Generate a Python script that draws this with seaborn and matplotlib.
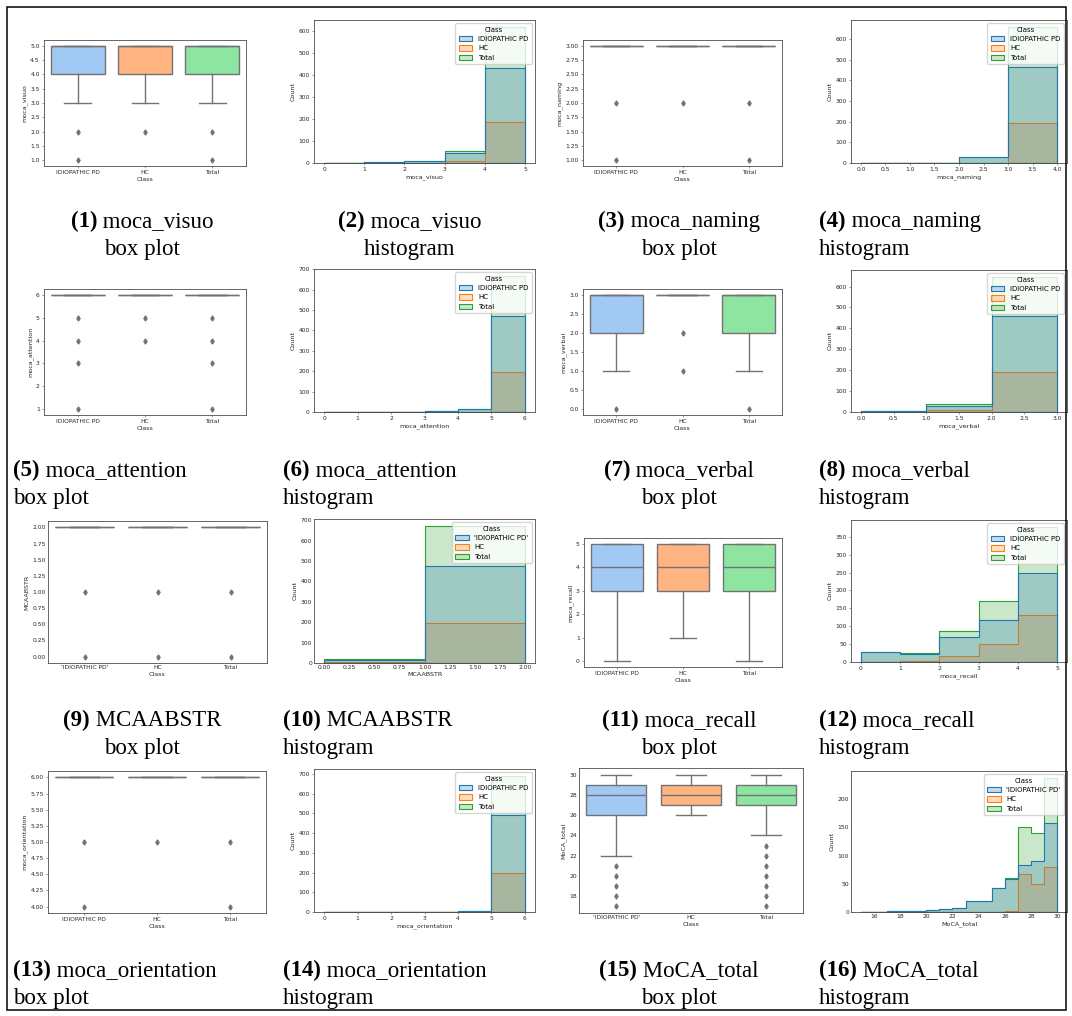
import numpy as np
import pandas as pd
import matplotlib
matplotlib.use("Agg")
import matplotlib.pyplot as plt
import matplotlib.ticker as mticker
from matplotlib.patches import Rectangle
import seaborn as sns

W, H = 1072, 1016

CLASSES = ["IDIOPATHIC PD", "HC", "Total"]
CLASSES_Q = ["'IDIOPATHIC PD'", "HC", "Total"]

# ---------------- box plot summaries (q1, median, q3, whiskers, outliers) ----------------
visuo_q1 = [4, 4, 4]
visuo_med = [5, 5, 5]
visuo_q3 = [5, 5, 5]
visuo_lo = [3, 3, 3]
visuo_hi = [5, 5, 5]
visuo_out = [[2, 1], [2], [2, 1]]

naming_q1 = [3, 3, 3]
naming_med = [3, 3, 3]
naming_q3 = [3, 3, 3]
naming_lo = [3, 3, 3]
naming_hi = [3, 3, 3]
naming_out = [[2, 1], [2], [2, 1]]

attention_q1 = [6, 6, 6]
attention_med = [6, 6, 6]
attention_q3 = [6, 6, 6]
attention_lo = [6, 6, 6]
attention_hi = [6, 6, 6]
attention_out = [[5, 4, 3, 1], [5, 4], [5, 4, 3, 1]]

verbal_q1 = [2, 3, 2]
verbal_med = [3, 3, 3]
verbal_q3 = [3, 3, 3]
verbal_lo = [1, 3, 1]
verbal_hi = [3, 3, 3]
verbal_out = [[0], [2, 1], [0]]

abstr_q1 = [2, 2, 2]
abstr_med = [2, 2, 2]
abstr_q3 = [2, 2, 2]
abstr_lo = [2, 2, 2]
abstr_hi = [2, 2, 2]
abstr_out = [[1, 0], [1, 0], [1, 0]]

recall_q1 = [3, 3, 3]
recall_med = [4, 4, 4]
recall_q3 = [5, 5, 5]
recall_lo = [0, 1, 0]
recall_hi = [5, 5, 5]
recall_out = [[], [], []]

orient_q1 = [6, 6, 6]
orient_med = [6, 6, 6]
orient_q3 = [6, 6, 6]
orient_lo = [6, 6, 6]
orient_hi = [6, 6, 6]
orient_out = [[5, 4], [5], [5, 4]]

total_q1 = [26, 27, 27]
total_med = [28, 28, 28]
total_q3 = [29, 29, 29]
total_lo = [22, 26, 24]
total_hi = [30, 30, 30]
total_out = [[21, 20, 19, 18, 17], [], [23, 22, 21, 20, 19, 18, 17]]

# ---------------- histogram counts (bin edges, counts per class) ----------------
visuo_edges = [0, 1, 2, 3, 4, 5]
visuo_pd = [0, 3, 8, 45, 432]
visuo_hc = [0, 0, 1, 9, 187]
visuo_tot = [0, 3, 9, 54, 619]

naming_edges = [0, 1, 2, 3, 4]
naming_pd = [0, 0, 29, 464]
naming_hc = [0, 0, 2, 194]
naming_tot = [0, 0, 31, 658]

attention_edges = [0, 1, 2, 3, 4, 5, 6]
attention_pd = [1, 0, 1, 4, 14, 471]
attention_hc = [0, 0, 0, 0, 1, 197]
attention_tot = [1, 0, 1, 4, 15, 668]

verbal_edges = [0, 1, 2, 3]
verbal_pd = [5, 29, 458]
verbal_hc = [0, 10, 189]
verbal_tot = [5, 39, 647]

abstr_edges = [0, 1, 2]
abstr_pd = [13, 476]
abstr_hc = [6, 197]
abstr_tot = [19, 673]

recall_edges = [0, 1, 2, 3, 4, 5]
recall_pd = [27, 22, 69, 118, 250]
recall_hc = [0, 2, 16, 49, 130]
recall_tot = [27, 25, 88, 170, 378]

orient_edges = [0, 1, 2, 3, 4, 5, 6]
orient_pd = [0, 0, 0, 0, 3, 490]
orient_hc = [0, 0, 0, 0, 0, 200]
orient_tot = [0, 0, 0, 0, 3, 690]

total_edges = [15, 16, 17, 18, 19, 20, 21, 22, 23, 24, 25, 26, 27, 28, 29, 30]
total_pd = [0, 0, 1, 1, 1, 3, 5, 7, 19, 20, 43, 58, 83, 90, 157]
total_hc = [0, 0, 0, 0, 0, 0, 0, 0, 0, 0, 0, 1, 67, 49, 80]
total_tot = [0, 0, 1, 1, 1, 3, 5, 7, 19, 20, 43, 61, 150, 140, 238]

# ---------------- figure ----------------
fig = plt.figure(figsize=(W / 100, H / 100), dpi=100)
PASTEL = sns.color_palette("pastel")[:3]
TAB = sns.color_palette("tab10")[:3]
GRAY = "0.45"
TICK_FS = 4.3
LAB_FS = 4.6


def frac(rect):
    l, t, r, b = rect
    return [l / W, 1 - b / H, (r - l) / W, (b - t) / H]


def style_axes(ax, ticks):
    for s in ax.spines.values():
        s.set_color("0.3")
        s.set_linewidth(0.6)
    ax.tick_params(labelsize=TICK_FS, length=1.6 if ticks else 0, width=0.4,
                   pad=1.5, colors="0.3", labelcolor="0.15")
    ax.xaxis.label.set_size(LAB_FS)
    ax.yaxis.label.set_size(LAB_FS)
    ax.xaxis.labelpad = 1.5
    ax.yaxis.labelpad = 2
    ax.xaxis.label.set_color("0.15")
    ax.yaxis.label.set_color("0.15")


def box_panel(rect, var, q1, med, q3, lo, hi, out, labels, ystep, ticks=True):
    ax = fig.add_axes(frac(rect))
    stats = [dict(q1=a, med=m, q3=b, whislo=l, whishi=h, fliers=f, label=lab)
             for a, m, b, l, h, f, lab in zip(q1, med, q3, lo, hi, out, labels)]
    bp = ax.bxp(stats, positions=[0, 1, 2], widths=0.8, patch_artist=True,
                showfliers=True,
                boxprops=dict(edgecolor=GRAY, linewidth=1.0),
                whiskerprops=dict(color=GRAY, linewidth=1.0),
                capprops=dict(color=GRAY, linewidth=1.0),
                medianprops=dict(color=GRAY, linewidth=1.0),
                flierprops=dict(marker="d", markerfacecolor=GRAY,
                                markeredgecolor=GRAY, markersize=2.6,
                                linestyle="none"))
    for patch, c in zip(bp["boxes"], PASTEL):
        patch.set_facecolor(c)
    ax.set_xlim(-0.5, 2.5)
    ax.set_xlabel("Class")
    ax.set_ylabel(var)
    ax.yaxis.set_major_locator(mticker.MultipleLocator(ystep))
    style_axes(ax, ticks)
    return ax


def hist_panel(rect, var, edges, c_pd, c_hc, c_tot, labels, xstep, ystep, ticks=True):
    ax = fig.add_axes(frac(rect))
    centers = [(edges[i] + edges[i + 1]) / 2 for i in range(len(edges) - 1)]
    n = len(centers)
    df = pd.DataFrame({
        var: centers * 3,
        "count": list(c_pd) + list(c_hc) + list(c_tot),
        "Class": [labels[0]] * n + [labels[1]] * n + [labels[2]] * n,
    })
    sns.histplot(data=df, x=var, weights="count", hue="Class", hue_order=labels,
                 bins=edges, element="step", palette=TAB, linewidth=0.8, ax=ax)
    ax.set_ylabel("Count")
    ax.xaxis.set_major_locator(mticker.MultipleLocator(xstep))
    ax.yaxis.set_major_locator(mticker.MultipleLocator(ystep))
    style_axes(ax, ticks)
    sns.move_legend(ax, "upper right", fontsize=5.0, title_fontsize=5.0,
                    borderaxespad=0.5, handlelength=2.0, handleheight=0.9,
                    labelspacing=0.45, borderpad=0.45)
    return ax


# Row 1
box_panel((44, 40, 246, 166), "moca_visuo", visuo_q1, visuo_med, visuo_q3,
          visuo_lo, visuo_hi, visuo_out, CLASSES, 0.5)
hist_panel((314, 20, 535, 163), "moca_visuo", visuo_edges, visuo_pd, visuo_hc,
           visuo_tot, CLASSES, 1, 100)
box_panel((583, 40, 782, 166), "moca_naming", naming_q1, naming_med, naming_q3,
          naming_lo, naming_hi, naming_out, CLASSES, 0.25)
hist_panel((851, 20, 1067, 163), "moca_naming", naming_edges, naming_pd, naming_hc,
           naming_tot, CLASSES, 0.5, 100)
# Row 2
box_panel((44, 289, 246, 415), "moca_attention", attention_q1, attention_med,
          attention_q3, attention_lo, attention_hi, attention_out, CLASSES, 1)
hist_panel((314, 269, 535, 412), "moca_attention", attention_edges, attention_pd,
           attention_hc, attention_tot, CLASSES, 1, 100)
box_panel((583, 289, 782, 415), "moca_verbal", verbal_q1, verbal_med, verbal_q3,
          verbal_lo, verbal_hi, verbal_out, CLASSES, 0.5)
hist_panel((851, 270, 1067, 412), "moca_verbal", verbal_edges, verbal_pd, verbal_hc,
           verbal_tot, CLASSES, 0.5, 100)
# Row 3
box_panel((48, 521, 267, 663), "MCAABSTR", abstr_q1, abstr_med, abstr_q3,
          abstr_lo, abstr_hi, abstr_out, CLASSES_Q, 0.25, ticks=False)
hist_panel((314, 519, 535, 663), "MCAABSTR", abstr_edges, abstr_pd, abstr_hc,
           abstr_tot, CLASSES_Q, 0.25, 100, ticks=False)
box_panel((584, 538, 782, 667), "moca_recall", recall_q1, recall_med, recall_q3,
          recall_lo, recall_hi, recall_out, CLASSES, 1)
hist_panel((851, 520, 1067, 662), "moca_recall", recall_edges, recall_pd, recall_hc,
           recall_tot, CLASSES, 1, 50)
# Row 4
box_panel((48, 771, 266, 913), "moca_orientation", orient_q1, orient_med, orient_q3,
          orient_lo, orient_hi, orient_out, CLASSES, 0.25)
hist_panel((314, 769, 535, 912), "moca_orientation", orient_edges, orient_pd,
           orient_hc, orient_tot, CLASSES, 1, 100)
box_panel((579, 768, 803, 913), "MoCA_total", total_q1, total_med, total_q3,
          total_lo, total_hi, total_out, CLASSES_Q, 2, ticks=False)
hist_panel((851, 771, 1067, 912), "MoCA_total", total_edges, total_pd, total_hc,
           total_tot, CLASSES_Q, 2, 50, ticks=False)

# ---------------- captions ----------------
CAP_FS = 16.5
SERIF = ["Liberation Serif", "DejaVu Serif"]
renderer = fig.canvas.get_renderer()

captions = [
    ("(1)", "moca_visuo", "box plot", 0, 0, "c"),
    ("(2)", "moca_visuo", "histogram", 1, 0, "c"),
    ("(3)", "moca_naming", "box plot", 2, 0, "c"),
    ("(4)", "moca_naming", "histogram", 3, 0, "l"),
    ("(5)", "moca_attention", "box plot", 0, 1, "l"),
    ("(6)", "moca_attention", "histogram", 1, 1, "l"),
    ("(7)", "moca_verbal", "box plot", 2, 1, "c"),
    ("(8)", "moca_verbal", "histogram", 3, 1, "l"),
    ("(9)", "MCAABSTR", "box plot", 0, 2, "c"),
    ("(10)", "MCAABSTR", "histogram", 1, 2, "l"),
    ("(11)", "moca_recall", "box plot", 2, 2, "c"),
    ("(12)", "moca_recall", "histogram", 3, 2, "l"),
    ("(13)", "moca_orientation", "box plot", 0, 3, "l"),
    ("(14)", "moca_orientation", "histogram", 1, 3, "l"),
    ("(15)", "MoCA_total", "box plot", 2, 3, "c"),
    ("(16)", "MoCA_total", "histogram", 3, 3, "l"),
]
col_center = [142, 410, 679, 946]
col_left = [13, 283, 551, 819]
row_base = [227, 476, 726, 976]
LINE = 28


def text_px(x, y, s, weight="normal"):
    return fig.text(x / W, 1 - y / H, s, fontsize=CAP_FS, family=SERIF,
                    weight=weight, va="baseline", ha="left", color="black")


for num, name, kind, col, row, al in captions:
    y1 = row_base[row]
    y2 = y1 + LINE
    t1 = text_px(0, y1, num, "bold")
    t2 = text_px(0, y1, " " + name)
    t3 = text_px(0, y2, kind)
    w1 = t1.get_window_extent(renderer).width
    w2 = t2.get_window_extent(renderer).width
    w3 = t3.get_window_extent(renderer).width
    if al == "c":
        x0 = col_center[col] - (w1 + w2) / 2
        x3 = col_center[col] - w3 / 2
    else:
        x0 = col_left[col]
        x3 = col_left[col]
    t1.set_x(x0 / W)
    t2.set_x((x0 + w1) / W)
    t3.set_x(x3 / W)

# outer frame
fig.add_artist(Rectangle((7 / W, 1 - 1010 / H), (1066 - 7) / W, (1010 - 7) / H,
                         transform=fig.transFigure, fill=False,
                         edgecolor="black", linewidth=1.1))

fig.savefig("out.png", dpi=100)
